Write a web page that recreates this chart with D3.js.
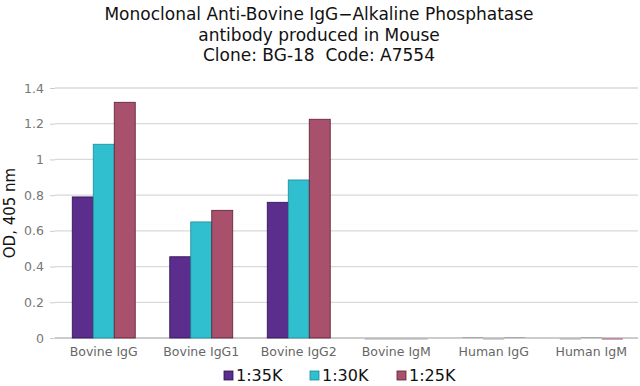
<!DOCTYPE html>
<html><head><meta charset="utf-8">
<script src="https://cdn.jsdelivr.net/npm/d3@7"></script>
<style>body{margin:0;background:#fff}svg{display:block}text{font-family:"DejaVu Sans",Verdana,sans-serif;white-space:pre}</style>
</head><body><svg id="c" width="640" height="386"></svg>
<script>
const categories = ["Bovine IgG","Bovine IgG1","Bovine IgG2","Bovine IgM","Human IgG","Human IgM"];
const seriesNames = ["1:35K","1:30K","1:25K"];
const s35 = [0.79, 0.455, 0.76, -0.004, 0.001, -0.004];
const s30 = [1.085, 0.65, 0.885, -0.004, -0.004, 0.004];
const s25 = [1.32, 0.715, 1.225, -0.002, 0.001, -0.008];
const colors = ["#5b2d8c","#2fbfce","#a8506c"];
const strokes = ["#2a1050","#1f8a96","#5a1f35"];
const yTicks = [0,0.2,0.4,0.6,0.8,1,1.2,1.4];
const titleLines = ["Monoclonal Anti-Bovine IgG\u2212Alkaline Phosphatase","antibody produced in Mouse","Clone: BG-18  Code: A7554"];
const series = [s35,s30,s25];

const svg = d3.select("#c");
const m = {l:55, r:640, t:88, b:338};
const x = d3.scaleBand().domain(categories).range([m.l, m.r]);
const x1 = d3.scaleBand().domain(d3.range(3)).range([0, 63]);
const y = d3.scaleLinear().domain([0,1.4]).range([m.b, m.t]);

// title
svg.append("g").selectAll("text").data(titleLines).join("text")
  .attr("x", 319).attr("y",(d,i)=>20+i*20.5).attr("text-anchor","middle")
  .attr("font-size",17).attr("fill","#111").attr("xml:space","preserve").text(d=>d);

// grid
svg.append("g").selectAll("line").data(yTicks).join("line")
  .attr("x1",m.l).attr("x2",638).attr("y1",d=>y(d)).attr("y2",d=>y(d))
  .attr("stroke",d=>d===0?"#bbb":"#d9d9d9").attr("stroke-width",1.3);

// y axis labels
const ya = svg.append("g").attr("transform",`translate(${m.l},0)`)
  .call(d3.axisLeft(y).tickValues(yTicks).tickSize(5).tickPadding(6).tickFormat(d=>String(d)));
ya.select(".domain").remove();
ya.selectAll(".tick line").attr("stroke","#ccc");
ya.selectAll("text").attr("font-size",12.5).attr("fill","#777").attr("font-family","DejaVu Sans");

svg.append("text").attr("transform","translate(15,213) rotate(-90)").attr("text-anchor","middle")
  .attr("font-size",15).attr("fill","#111").text("OD, 405 nm");

// bars
const g = svg.append("g");
categories.forEach((c,ci)=>{
  const x0 = x(c) + (x.bandwidth()-63)/2;
  series.forEach((s,si)=>{
    const v = s[ci];
    const h = Math.abs(y(v)-y(0));
    const small = h < 2;
    g.append("rect").attr("x", x0 + x1(si)).attr("width", x1.bandwidth())
      .attr("y", small ? y(0) + (v < 0 ? 0.5 : -1) : y(Math.max(0,v)))
      .attr("height", small ? 1 : h)
      .attr("fill", small ? (v<0 && si===2 && v<-0.006 ? "#a05070" : "#a8a8b0") : colors[si])
      .attr("stroke", small ? "none" : strokes[si]).attr("stroke-width",0.8);
  });
});

// x labels
const xa = svg.append("g").attr("transform",`translate(0,${m.b})`)
  .call(d3.axisBottom(x).tickSize(0).tickPadding(9));
xa.select(".domain").remove();
xa.selectAll("text").attr("font-size",12.5).attr("fill","#666").attr("font-family","DejaVu Sans");

// legend
const lx = [224, 310, 397];
const lg = svg.append("g");
seriesNames.forEach((n,i)=>{
  lg.append("rect").attr("x",lx[i]).attr("y",371).attr("width",9).attr("height",9)
    .attr("fill",colors[i]).attr("stroke",strokes[i]).attr("stroke-width",0.8);
  lg.append("text").attr("x",lx[i]+12).attr("y",381).attr("font-size",16).attr("fill","#111").text(n);
});
</script></body></html>
